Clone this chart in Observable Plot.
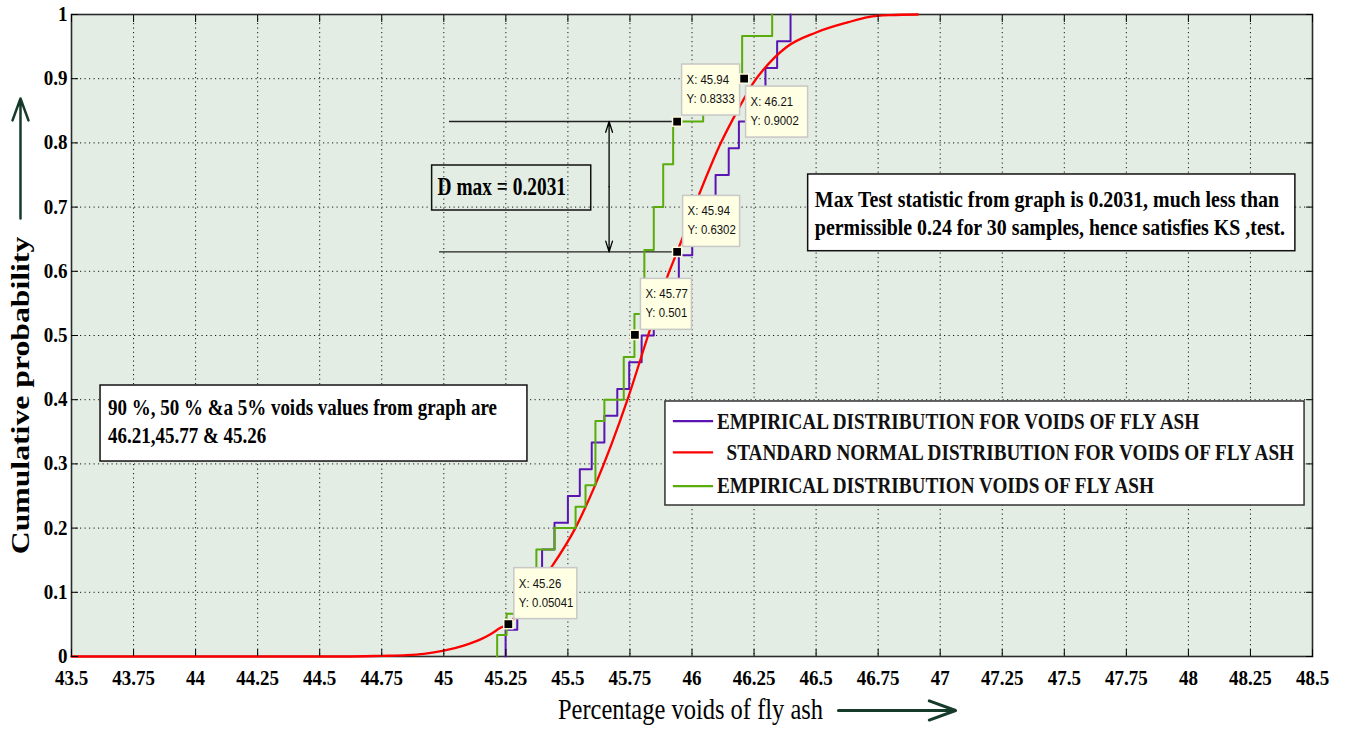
<!DOCTYPE html>
<html><head><meta charset="utf-8">
<script src="https://cdn.jsdelivr.net/npm/d3@7"></script>
<script src="https://cdn.jsdelivr.net/npm/@observablehq/plot@0.6"></script>
<style>
html,body{margin:0;padding:0;background:#fff;}
#chart svg{display:block;}
</style></head><body><div id="chart"></div>
<script>
// ---------- data ----------
const xTicks = [43.5,43.75,44,44.25,44.5,44.75,45,45.25,45.5,45.75,46,46.25,46.5,46.75,47,47.25,47.5,47.75,48,48.25,48.5];
const yTicks = [0,0.1,0.2,0.3,0.4,0.5,0.6,0.7,0.8,0.9,1];

// empirical CDF (purple, 24 steps)
const purpleX = [45.249,45.249,45.296,45.345,45.396,45.446,45.500,45.548,45.596,45.647,45.699,45.747,45.797,45.846,45.900,45.947,46.001,46.050,46.095,46.148,46.189,46.240,46.296,46.343,46.397];
const purpleY = [0,0.0417,0.0833,0.125,0.1667,0.2083,0.25,0.2917,0.3333,0.375,0.4167,0.4583,0.5,0.5417,0.5833,0.625,0.6667,0.7083,0.75,0.7917,0.8333,0.875,0.9167,0.9583,1];

// empirical CDF (green, 30 samples)
const greenX = [45.215,45.215,45.253,45.290,45.330,45.373,45.446,45.531,45.571,45.611,45.647,45.725,45.768,45.808,45.846,45.884,45.924,46.045,46.120,46.202,46.323];
const greenY = [0,0.0333,0.0667,0.1,0.1333,0.1667,0.2,0.2333,0.2667,0.3667,0.4,0.4667,0.5333,0.6333,0.7,0.7667,0.8333,0.8667,0.9,0.9667,1];

// normal CDF curve (red)
const redX = [43.5,44.6,44.75,44.85,44.92,45.0,45.08,45.15,45.19,45.23,45.26,45.33,45.43,45.53,45.61,45.74,45.823,45.9,45.94,46.03,46.115,46.19,46.25,46.29,46.38,46.5,46.63,46.71,46.8,46.91];
const redY = [0,0,0.001,0.002,0.004,0.009,0.017,0.027,0.035,0.045,0.0504,0.085,0.137,0.200,0.267,0.400,0.500,0.591,0.6302,0.721,0.799,0.855,0.895,0.915,0.949,0.972,0.988,0.996,0.999,1.0];

// data tips
const tipX = [45.94,46.21,45.94,45.77,45.26];
const tipY = [0.8333,0.9002,0.6302,0.501,0.05041];
const tipXText = ["45.94","46.21","45.94","45.77","45.26"];
const tipYText = ["0.8333","0.9002","0.6302","0.501","0.05041"];

// texts
const seriesNames = ["EMPIRICAL DISTRIBUTION FOR VOIDS OF FLY ASH","STANDARD NORMAL DISTRIBUTION FOR VOIDS OF FLY ASH","EMPIRICAL DISTRIBUTION VOIDS OF FLY ASH"];
const leftNote = ["90 %, 50 % &a 5% voids values from graph are","46.21,45.77 & 45.26"];
const rightNote = ["Max Test statistic from graph is 0.2031, much less than","permissible 0.24 for 30 samples, hence satisfies KS ,test."];
const dmaxText = "D max = 0.2031";
const dmaxLevels = [0.8333, 0.6302];
const dmaxX = 45.94;
const xTitle = "Percentage voids of fly ash";
const yTitle = "Cumulative probability";

// ---------- layout / style (not data) ----------
const colors = ["#5a14b4", "#ff0000", "#5aab0c"];
const L = {
  leftBox: {x1: 43.617, x2: 45.337, y1: 0.3037, y2: 0.4221, tx: 43.647, ty: [0.3757, 0.3318]},
  rightBox: {x1: 46.468, x2: 48.431, y1: 0.6313, y2: 0.7508, tx: 46.495, ty: [0.6999, 0.6558]},
  dBox: {x1: 44.953, x2: 45.594, y1: 0.6947, y2: 0.7648, tx: 44.975, ty: 0.7181},
  legend: {x1: 45.893, x2: 48.468, y1: 0.2352, y2: 0.3972, lx1: 45.925, lx2: 46.087,
           rows: [0.3665, 0.3178, 0.2653], tx: [46.101, 46.139, 46.101], ty: [0.3551, 0.3061, 0.2539]},
  dLineStart: [45.023, 44.983],
  dArrowX: 45.666,
  upArrow: {x: 43.2945, y1: 0.6822, y2: 0.8692},
  xArrow: {x1: 46.590, x2: 47.062, y: -0.0841},
  tipBox: [[5,-57,58,51],[2,8,62,51],[6,-56,57,51],[6,-56,51,51],[6,-56,63,51]]
};

const purple = purpleX.map((x, i) => ({x, y: purpleY[i]}));
const green = greenX.map((x, i) => ({x, y: greenY[i]}));
const red = redX.map((x, i) => ({x, y: redY[i]}));
const tips = tipX.map((x, i) => ({x, y: tipY[i], tx: tipXText[i], ty: tipYText[i]}));

const serif = "'Liberation Serif','Times New Roman',serif";
const green2 = "#173b2b";

function dataTips(index, scales) {
  const g = d3.create("svg:g").attr("aria-label", "datatips");
  tips.forEach((t, i) => {
    const px = scales.x(t.x), py = scales.y(t.y);
    const [ox, oy, w, h] = L.tipBox[i];
    const gg = g.append("g").attr("transform", `translate(${px + ox},${py + oy})`);
    gg.append("rect").attr("width", w).attr("height", h)
      .attr("fill", "#ffffe3").attr("stroke", "#c8c8c8").attr("stroke-width", 1.5);
    [`X: ${t.tx}`, `Y: ${t.ty}`].forEach((s, k) => {
      gg.append("text").attr("x", 5).attr("y", 20 + k * 19)
        .attr("text-anchor", "start")
        .attr("font-family", "'Liberation Sans',Arial,sans-serif")
        .attr("font-size", 12).attr("fill", "#111")
        .attr("transform", `translate(5,${20 + k * 19}) scale(0.95,1.1) translate(-5,${-(20 + k * 19)})`)
        .text(s);
    });
  });
  return g.node();
}

const chart = Plot.plot({
  width: 1345, height: 729,
  marginLeft: 71, marginRight: 33, marginTop: 14, marginBottom: 73,
  x: {domain: [43.5, 48.5]},
  y: {domain: [0, 1]},
  style: {fontFamily: serif, background: "white", color: "black"},
  marks: [
    Plot.frame({fill: "#e3ede3"}),
    Plot.gridX({ticks: xTicks, stroke: "#000", strokeOpacity: 0.9, strokeDasharray: "1.2,3.3"}),
    Plot.gridY({ticks: yTicks, stroke: "#000", strokeOpacity: 0.9, strokeDasharray: "1.2,3.3"}),
    Plot.frame({stroke: "#2b2b2b", strokeWidth: 1.6}),
    // boxes
    Plot.rect([L.leftBox, L.rightBox], {x1: "x1", x2: "x2", y1: "y1", y2: "y2", fill: "white", stroke: "#111", strokeWidth: 1.5}),
    Plot.rect([L.dBox], {x1: "x1", x2: "x2", y1: "y1", y2: "y2", fill: "none", stroke: "#111", strokeWidth: 1.5}),
    Plot.rect([L.legend], {x1: "x1", x2: "x2", y1: "y1", y2: "y2", fill: "white", stroke: "#333", strokeWidth: 1.5}),
    Plot.ruleY(dmaxLevels.map((y, i) => ({y, x1: L.dLineStart[i], x2: dmaxX})), {y: "y", x1: "x1", x2: "x2", stroke: "#222", strokeWidth: 1.4}),
    Plot.arrow(dmaxLevels, {x1: L.dArrowX, x2: L.dArrowX, y1: (dmaxLevels[0] + dmaxLevels[1]) / 2, y2: d => d, stroke: "#000", strokeWidth: 1.3, headLength: 13, headAngle: 35}),
    // series
    Plot.line(purple, {x: "x", y: "y", curve: "step-after", stroke: colors[0], strokeWidth: 2}),
    Plot.line(red, {x: "x", y: "y", curve: "monotone-x", stroke: colors[1], strokeWidth: 2.3}),
    Plot.line(green, {x: "x", y: "y", curve: "step-after", stroke: colors[2], strokeWidth: 2}),
    // legend
    Plot.ruleY(L.legend.rows, {y: d => d, x1: L.legend.lx1, x2: L.legend.lx2, stroke: (d, i) => colors[i], strokeWidth: 2.2}),
    Plot.text(seriesNames, {x: (d, i) => L.legend.tx[i], y: (d, i) => L.legend.ty[i], text: d => d, textAnchor: "start", lineAnchor: "bottom", fontSize: 19.2, fontWeight: "bold", fill: "#111"}),
    // notes
    Plot.text(leftNote, {x: L.leftBox.tx, y: (d, i) => L.leftBox.ty[i], text: d => d, textAnchor: "start", lineAnchor: "bottom", fontSize: 19, fontWeight: "bold", fill: "#000"}),
    Plot.text(rightNote, {x: L.rightBox.tx, y: (d, i) => L.rightBox.ty[i], text: d => d, textAnchor: "start", lineAnchor: "bottom", fontSize: 19.9, fontWeight: "bold", fill: "#000"}),
    Plot.text([dmaxText], {x: L.dBox.tx, y: L.dBox.ty, text: d => d, textAnchor: "start", lineAnchor: "bottom", fontSize: 19.4, fontWeight: "bold", fill: "#000"}),
    // data tips and markers
    dataTips,
    Plot.dot(tips, {x: "x", y: "y", symbol: "square", r: 5.2, fill: "#000", stroke: "#fffbe0", strokeWidth: 1.5}),
    // axes
    Plot.axisX({ticks: xTicks, anchor: "bottom", tickSize: -7, tickPadding: 20, tickFormat: d => String(d), label: null, fontSize: 19, fontWeight: "bold"}),
    Plot.axisX({ticks: xTicks, anchor: "top", tickSize: -7, tickFormat: () => "", label: null}),
    Plot.axisY({ticks: yTicks, anchor: "left", tickSize: -7, tickPadding: 11, tickFormat: d => String(d), label: null, fontSize: 19, fontWeight: "bold"}),
    Plot.axisY({ticks: yTicks, anchor: "right", tickSize: -7, tickFormat: () => "", label: null}),
    // titles & arrows
    Plot.text([yTitle], {frameAnchor: "left", dx: -51, dy: 60, rotate: -90, textAnchor: "middle", lineAnchor: "middle", text: d => d, fontSize: 26, fontWeight: "bold", fill: "#000"}),
    Plot.arrow([L.upArrow], {x1: "x", x2: "x", y1: "y1", y2: "y2", stroke: green2, strokeWidth: 2.5, headLength: 14, headAngle: 40}),
    Plot.text([xTitle], {frameAnchor: "bottom", dx: -1.5, dy: 62, textAnchor: "middle", lineAnchor: "bottom", text: d => d, fontSize: 24.5, fill: "#000"}),
    Plot.arrow([L.xArrow], {x1: "x1", x2: "x2", y1: "y", y2: "y", stroke: green2, strokeWidth: 3, headLength: 14, headAngle: 40})
  ]
});

// stretch text glyphs (the reference's lettering is drawn tall and narrow)
const stretchBy = new Map();
seriesNames.forEach(s => stretchBy.set(s, [1, 1.2]));
leftNote.concat(rightNote).forEach(s => stretchBy.set(s, [1, 1.17]));
stretchBy.set(dmaxText, [1, 1.3]);
stretchBy.set(yTitle, [1.22, 1]);
stretchBy.set(xTitle, [1, 1.18]);
chart.querySelectorAll("text").forEach(t => {
  const k = stretchBy.get(t.textContent);
  if (k) t.setAttribute("transform", (t.getAttribute("transform") || "") + ` scale(${k[0]},${k[1]})`);
});
function stretchAxis(label, sx, sy) {
  chart.querySelectorAll(`g[aria-label="${label}"] text`).forEach(t => {
    t.setAttribute("transform", (t.getAttribute("transform") || "") + ` scale(${sx},${sy})`);
  });
}
stretchAxis("x-axis tick label", 1, 1.15);
stretchAxis("y-axis tick label", 1, 1.08);

document.getElementById("chart").appendChild(chart);
</script></body></html>
